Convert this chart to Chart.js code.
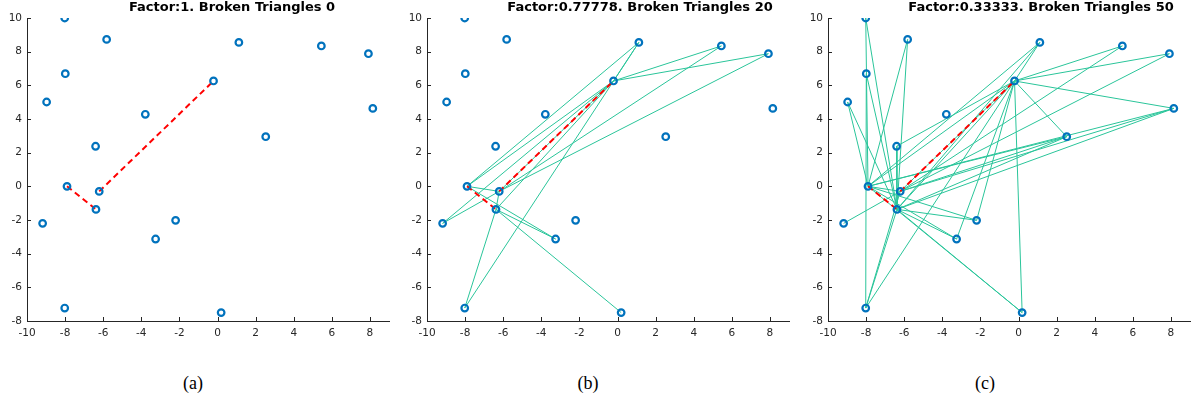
<!DOCTYPE html>
<html>
<head>
<meta charset="utf-8">
<script src="https://cdn.jsdelivr.net/npm/chart.js@4.4.1/dist/chart.umd.min.js"></script>
<style>
  body { margin: 0; background: #fff; width: 1198px; height: 411px; position: relative; overflow: hidden; }
  canvas { position: absolute; top: 0; }
  .cap { position: absolute; top: 373px; width: 60px; text-align: center; font: 18px "Liberation Serif", serif; color: #000; }
</style>
</head>
<body>
<canvas id="c0" width="400" height="345" style="left:0px"></canvas>
<canvas id="c1" width="400" height="345" style="left:400px"></canvas>
<canvas id="c2" width="400" height="345" style="left:801px"></canvas>
<div class="cap" style="left:163px">(a)</div>
<div class="cap" style="left:558px">(b)</div>
<div class="cap" style="left:955px">(c)</div>
<script>
// point names A..T, coordinates
var names = 'ABCDEFGHIJKLMNOPQRST';
var ptX = [-8.02, -5.82, -7.99, -8.97, -3.79, -6.40, -7.90, -6.21, -6.38, -9.18, -3.25, -2.20, -8.02, 0.19, -0.21, 1.12, 2.53, 5.45, 7.92, 8.15];
var ptY = [10.0, 8.73, 6.69, 5.01, 4.28, 2.38, 0.0, -0.30, -1.37, -2.20, -3.13, -2.02, -7.23, -7.50, 6.26, 8.55, 2.95, 8.34, 7.88, 4.63];

// red dashed path (same in all panels)
var redEdges = ['GI', 'HO'];

// green edges of the broken triangles
var edgesA = [];
var edgesB = ['GO', 'GP', 'GH', 'GK', 'JO', 'JH', 'HO', 'HR', 'HS', 'OR', 'OS', 'OP', 'MP', 'MI', 'IK', 'IN', 'HI', 'IO'];
var edgesC = ['AG', 'AI', 'BG', 'BI', 'CM', 'CI', 'DG', 'DI', 'FO', 'FI', 'GO', 'GQ', 'GT', 'GL', 'GK', 'GN', 'GH', 'GP',
              'HO', 'HQ', 'HT', 'HS', 'HR', 'IQ', 'IT', 'IL', 'IK', 'IN', 'IM', 'IO', 'JH', 'KO', 'LO', 'MO', 'MH',
              'NO', 'OP', 'OR', 'OS', 'OT', 'OQ', 'IP'];

var titles = ['Factor:1. Broken Triangles 0', 'Factor:0.77778. Broken Triangles 20', 'Factor:0.33333. Broken Triangles 50'];
var xTicks = [-10, -8, -6, -4, -2, 0, 2, 4, 6, 8];
var yTicks = [-8, -6, -4, -2, 0, 2, 4, 6, 8, 10];

var axisColor = '#262626';

function pt(ch) {
    var i = names.indexOf(ch);
    return { x: ptX[i], y: ptY[i] };
}

// inward tick marks + title text
var matlabAxes = {
    id: 'matlabAxes',
    afterDraw: function(chart) {
        var ctx = chart.ctx, a = chart.chartArea, sx = chart.scales.x, sy = chart.scales.y;
        ctx.save();
        ctx.strokeStyle = axisColor;
        ctx.lineWidth = 1;
        ctx.beginPath();
        sx.ticks.forEach(function(t) {
            var px = Math.round(sx.getPixelForValue(t.value)) + 0.5;
            ctx.moveTo(px, a.bottom);
            ctx.lineTo(px, a.bottom - 4);
        });
        sy.ticks.forEach(function(t) {
            var py = Math.round(sy.getPixelForValue(t.value)) + 0.5;
            ctx.moveTo(a.left, py);
            ctx.lineTo(a.left + 4, py);
        });
        ctx.stroke();
        var o = chart.options.plugins.matlabAxes;
        ctx.fillStyle = '#000';
        ctx.font = 'bold 13px "DejaVu Sans"';
        ctx.textAlign = 'center';
        ctx.textBaseline = 'middle';
        ctx.fillText(o.title, (a.left + a.right) / 2 + o.shift, 8);
        ctx.restore();
    }
};

function makeChart(id, edges, title, shift) {
    var datasets = [];
    // points on top (lowest order is drawn last)
    datasets.push({
        order: 0,
        data: ptX.map(function(x, i) { return { x: x, y: ptY[i] }; }),
        showLine: false, pointRadius: 3.3, borderWidth: 2.2,
        borderColor: '#0072BD', backgroundColor: 'rgba(255,255,255,0)'
    });
    redEdges.forEach(function(e) {
        datasets.push({
            order: 1,
            data: [pt(e[0]), pt(e[1])],
            showLine: true, borderColor: '#ff0000', borderWidth: 2, borderDash: [6, 4], pointRadius: 0
        });
    });
    edges.forEach(function(e) {
        datasets.push({
            order: 2,
            data: [pt(e[0]), pt(e[1])],
            showLine: true, borderColor: '#2ac59a', borderWidth: 1, pointRadius: 0
        });
    });

    new Chart(document.getElementById(id), {
        type: 'scatter',
        data: { datasets: datasets },
        options: {
            responsive: false,
            animation: false,
            devicePixelRatio: 1,
            layout: { padding: { top: 18, right: 11, left: 0, bottom: 0 } },
            plugins: {
                legend: { display: false },
                tooltip: { enabled: false },
                matlabAxes: { title: title, shift: shift }
            },
            scales: {
                x: {
                    min: -10, max: 9,
                    afterBuildTicks: function(s) { s.ticks = xTicks.map(function(v) { return { value: v }; }); },
                    afterFit: function(s) { s.height = 24; },
                    grid: { display: false, drawTicks: false },
                    border: { display: true, color: axisColor, width: 1 },
                    ticks: { color: axisColor, font: { family: 'DejaVu Sans', size: 10.5 }, padding: 6, maxRotation: 0 }
                },
                y: {
                    min: -8, max: 10,
                    afterBuildTicks: function(s) { s.ticks = yTicks.map(function(v) { return { value: v }; }); },
                    afterFit: function(s) { s.width = 27; },
                    grid: { display: false, drawTicks: false },
                    border: { display: true, color: axisColor, width: 1 },
                    ticks: { color: axisColor, font: { family: 'DejaVu Sans', size: 10.5 }, padding: 5 }
                }
            }
        },
        plugins: [matlabAxes]
    });
}

makeChart('c0', edgesA, titles[0], 24);
makeChart('c1', edgesB, titles[1], 32);
makeChart('c2', edgesC, titles[2], 32);
</script>
</body>
</html>
